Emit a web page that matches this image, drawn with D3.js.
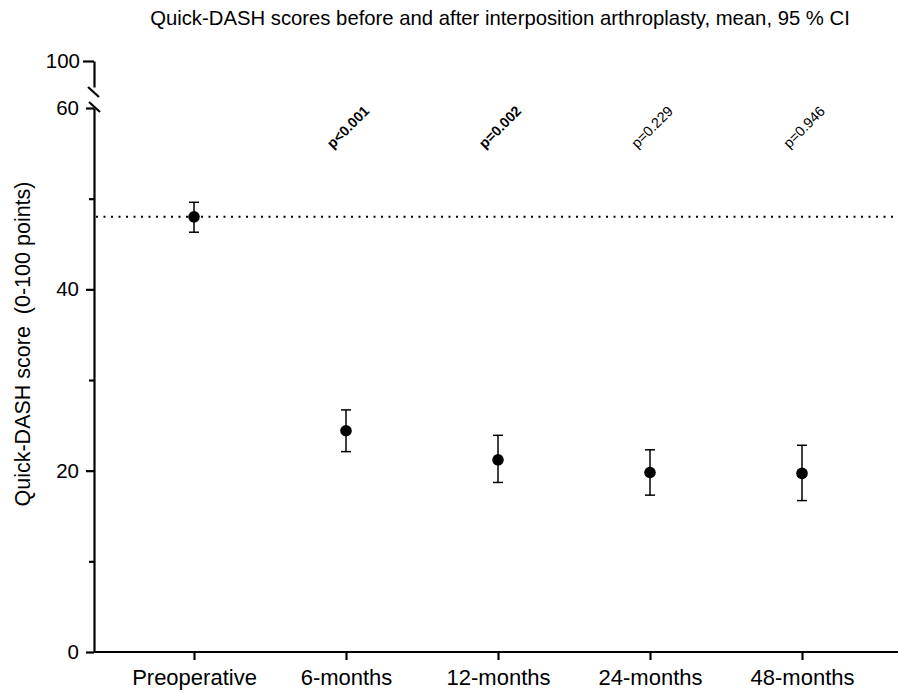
<!DOCTYPE html>
<html><head><meta charset="utf-8">
<script src="https://cdn.jsdelivr.net/npm/d3@7"></script>
<style>body{margin:0;background:#fff}svg{display:block}text{font-family:Arial,"Liberation Sans",sans-serif;white-space:pre}</style>
</head><body>
<script>
const categories = ["Preoperative","6-months","12-months","24-months","48-months"];
const means = [48.0, 24.4, 21.2, 19.8, 19.7];
const ciLow = [46.3, 22.1, 18.7, 17.3, 16.7];
const ciHigh = [49.6, 26.7, 23.9, 22.3, 22.8];
const pLabels = ["", "p<0.001", "p=0.002", "p=0.229", "p=0.946"];
const pBold = [false, true, true, false, false];
const yTicks = [0, 20, 40, 60];
const yMinorTicks = [10, 30, 50];
const topTicks = [100];
const refLine = 48.0;

const W = 898, H = 693;
const FONT = "Arial, 'Liberation Sans', sans-serif";
const svg = d3.select("body").append("svg").attr("width", W).attr("height", H);

const x = d3.scalePoint().domain(categories).range([118, 878]).padding(0.5);
const y = d3.scaleLinear().domain([0, 60]).range([652, 108]);
const yTop = d3.scaleLinear().domain([97, 100]).range([87, 61]);
const axisX0 = 94;

// title
svg.append("text").attr("x", 500).attr("y", 25).attr("text-anchor", "middle")
  .attr("font-size", 20.3).text("Quick-DASH scores before and after interposition arthroplasty, mean, 95 % CI");

// y label
svg.append("text").attr("transform", "translate(30,344) rotate(-90)").attr("text-anchor", "middle")
  .attr("font-size", 21.5).text("Quick-DASH score  (0-100 points)");

// main y axis
const gy = svg.append("g").attr("transform", `translate(${axisX0},0)`)
  .call(d3.axisLeft(y).tickValues(yTicks).tickSize(8).tickSizeOuter(0).tickPadding(7));
const gyMinor = svg.append("g").attr("transform", `translate(${axisX0},0)`)
  .call(d3.axisLeft(y).tickValues(yMinorTicks).tickSize(5).tickSizeOuter(0).tickFormat(""));
gyMinor.select(".domain").remove();
// top segment
const gt = svg.append("g").attr("transform", `translate(${axisX0},0)`)
  .call(d3.axisLeft(yTop).tickValues(topTicks).tickSize(11).tickSizeOuter(0).tickPadding(3).tickFormat(d3.format("d")));

// x axis
const gx = svg.append("g").attr("transform", `translate(0,${y(0)})`)
  .call(d3.axisBottom(x).tickSize(8).tickSizeOuter(0));
gx.select(".domain").attr("d", `M${axisX0},0H${W}`);

[gy, gyMinor, gt, gx].forEach(g => {
  g.selectAll("path,line").attr("stroke", "#000").attr("stroke-width", 2.2);
  g.selectAll("text").attr("font-size", 20.5).attr("fill", "#000").attr("font-family", FONT);
});
gx.selectAll("text").attr("font-size", 22).attr("y", 33).attr("dy", null);

// break marks
const brk = svg.append("g").attr("stroke", "#000").attr("stroke-width", 2.2);
brk.append("line").attr("x1", axisX0 - 6).attr("y1", yTop.range()[0]).attr("x2", axisX0 + 5).attr("y2", yTop.range()[0] + 10);
brk.append("line").attr("x1", axisX0 - 5).attr("y1", y(60) - 6).attr("x2", axisX0 + 6).attr("y2", y(60) + 4);

// reference dotted line
svg.append("line").attr("x1", axisX0 + 2).attr("x2", W).attr("y1", y(refLine)).attr("y2", y(refLine))
  .attr("stroke", "#000").attr("stroke-width", 2).attr("stroke-dasharray", "2,5.5");

// error bars
const eb = svg.append("g").attr("stroke", "#000").attr("stroke-width", 1.5);
categories.forEach((c, i) => {
  const cx = x(c);
  eb.append("line").attr("x1", cx).attr("x2", cx).attr("y1", y(ciLow[i])).attr("y2", y(ciHigh[i]));
  eb.append("line").attr("x1", cx - 5).attr("x2", cx + 5).attr("y1", y(ciLow[i])).attr("y2", y(ciLow[i]));
  eb.append("line").attr("x1", cx - 5).attr("x2", cx + 5).attr("y1", y(ciHigh[i])).attr("y2", y(ciHigh[i]));
});
svg.append("g").selectAll("circle").data(categories).join("circle")
  .attr("cx", d => x(d)).attr("cy", (d, i) => y(means[i])).attr("r", 5.8).attr("fill", "#000");

// p labels
svg.append("g").selectAll("text").data(categories).join("text")
  .attr("transform", d => `translate(${x(d) + 2},${127}) rotate(-45)`)
  .attr("text-anchor", "middle").attr("dy", "0.35em")
  .attr("font-size", 14.3).attr("font-weight", (d, i) => pBold[i] ? "bold" : "normal")
  .text((d, i) => pLabels[i]);
</script>
</body></html>
